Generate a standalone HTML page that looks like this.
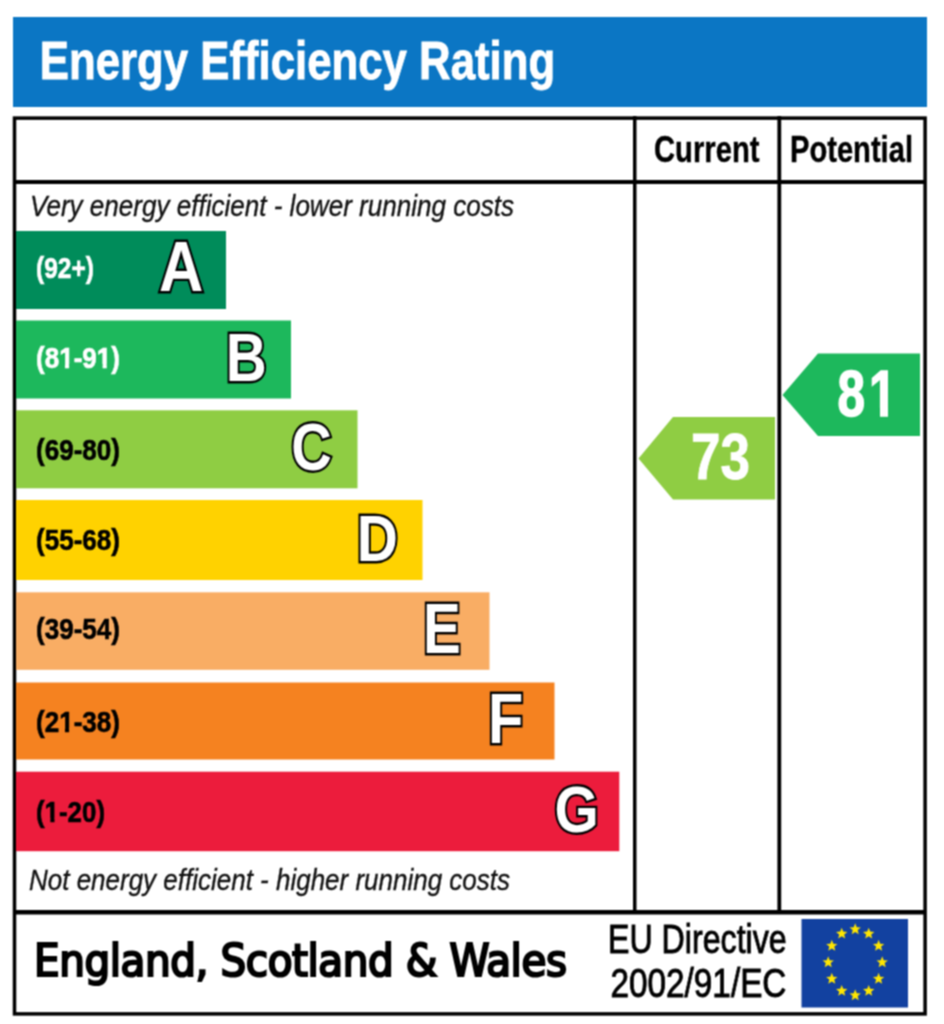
<!DOCTYPE html>
<html><head><meta charset="utf-8"><title>Energy Efficiency Rating</title>
<style>
html,body{margin:0;padding:0;background:#fff;width:944px;height:1024px;overflow:hidden}
svg{display:block}
.b{font-family:"Liberation Sans",Arial,sans-serif;font-weight:bold}
.i{font-family:"Liberation Sans",Arial,sans-serif;font-style:italic}
.r{font-family:"Liberation Sans",Arial,sans-serif}
.L{font-family:"Liberation Sans",Arial,sans-serif;font-weight:bold;fill:#fff;stroke:#000;stroke-width:4.8;paint-order:stroke fill;stroke-linejoin:miter;stroke-miterlimit:4}
</style></head>
<body>
<svg width="944" height="1024" viewBox="0 0 944 1024">
<defs><filter id="soft" filterUnits="userSpaceOnUse" x="0" y="0" width="944" height="1024" color-interpolation-filters="sRGB"><feConvolveMatrix order="3" kernelMatrix="1 2 1 2 4 2 1 2 1" divisor="16" edgeMode="duplicate"/></filter></defs>
<g filter="url(#soft)">
<!-- header -->
<rect x="13" y="17" width="914" height="90" fill="#0b76c4"/>
<text class="b" x="39.8" y="78.5" font-size="53" fill="#fff" stroke="#fff" stroke-width="0.9" textLength="515.4" lengthAdjust="spacingAndGlyphs">Energy Efficiency Rating</text>

<!-- table frame -->
<rect x="14.5" y="118.1" width="910.6" height="895.8" fill="none" stroke="#000" stroke-width="3.5"/>
<rect x="13" y="180" width="913" height="4" fill="#000"/>
<rect x="13" y="910" width="913" height="4.5" fill="#000"/>
<rect x="633" y="116" width="3.5" height="796" fill="#000"/>
<rect x="777.4" y="116" width="3.8" height="796" fill="#000"/>

<text class="b" x="654" y="162" font-size="37" fill="#000" stroke="#000" stroke-width="0.4" textLength="105.5" lengthAdjust="spacingAndGlyphs">Current</text>
<text class="b" x="790" y="161.6" font-size="37" fill="#000" stroke="#000" stroke-width="0.4" textLength="123" lengthAdjust="spacingAndGlyphs">Potential</text>

<text class="i" x="30" y="215.5" font-size="29" fill="#111" stroke="#111" stroke-width="0.35" textLength="484" lengthAdjust="spacingAndGlyphs">Very energy efficient - lower running costs</text>

<!-- bars -->
<rect x="16" y="231" width="210" height="78" fill="#008c5a"/>
<rect x="16" y="320.5" width="275" height="78" fill="#1db85c"/>
<rect x="16" y="410.3" width="341.5" height="78" fill="#8fcd43"/>
<rect x="16" y="500" width="406.5" height="80" fill="#ffd200"/>
<rect x="16" y="592.3" width="473.5" height="77.5" fill="#f9ad64"/>
<rect x="16" y="682.5" width="538.5" height="77" fill="#f58220"/>
<rect x="16" y="771.7" width="603.3" height="79.5" fill="#ec1c3c"/>

<text class="b" x="36" y="278.4" font-size="29" fill="#fff" stroke="#fff" stroke-width="0.6" textLength="58" lengthAdjust="spacingAndGlyphs">(92+)</text>
<text class="b" x="36" y="368.1" font-size="29" fill="#fff" stroke="#fff" stroke-width="0.6" textLength="84" lengthAdjust="spacingAndGlyphs">(81-91)</text>
<text class="b" x="36" y="459.7" font-size="29" fill="#000" stroke="#000" stroke-width="0.6" textLength="84" lengthAdjust="spacingAndGlyphs">(69-80)</text>
<text class="b" x="36" y="549.7" font-size="29" fill="#000" stroke="#000" stroke-width="0.6" textLength="84" lengthAdjust="spacingAndGlyphs">(55-68)</text>
<text class="b" x="36" y="639.4" font-size="29" fill="#000" stroke="#000" stroke-width="0.6" textLength="84" lengthAdjust="spacingAndGlyphs">(39-54)</text>
<text class="b" x="36" y="731.7" font-size="29" fill="#000" stroke="#000" stroke-width="0.6" textLength="84" lengthAdjust="spacingAndGlyphs">(21-38)</text>
<text class="b" x="36" y="821.7" font-size="29" fill="#000" stroke="#000" stroke-width="0.6" textLength="69" lengthAdjust="spacingAndGlyphs">(1-20)</text>

<text class="L" x="159" y="291.3" font-size="70" textLength="44.3" lengthAdjust="spacingAndGlyphs">A</text>
<text class="L" x="225.8" y="380.8" font-size="68.8" textLength="41" lengthAdjust="spacingAndGlyphs">B</text>
<text class="L" x="291.3" y="470.2" font-size="67" textLength="40.5" lengthAdjust="spacingAndGlyphs">C</text>
<text class="L" x="356.8" y="560.6" font-size="65.7" textLength="41.2" lengthAdjust="spacingAndGlyphs">D</text>
<text class="L" x="423" y="652.9" font-size="69.5" textLength="37.8" lengthAdjust="spacingAndGlyphs">E</text>
<text class="L" x="488" y="742.9" font-size="69.5" textLength="35.3" lengthAdjust="spacingAndGlyphs">F</text>
<text class="L" x="554.6" y="831.8" font-size="65.7" textLength="44.3" lengthAdjust="spacingAndGlyphs">G</text>

<text class="i" x="29" y="889.5" font-size="29" fill="#111" stroke="#111" stroke-width="0.35" textLength="481" lengthAdjust="spacingAndGlyphs">Not energy efficient - higher running costs</text>

<g class="ft">
<rect x="59.30" y="364" width="5.64" height="5" fill="#1db85c"/>
<rect x="69.12" y="364" width="5.31" height="5" fill="#1db85c"/>
<rect x="96.95" y="364" width="5.64" height="5" fill="#1db85c"/>
<rect x="106.77" y="364" width="5.31" height="5" fill="#1db85c"/>
<rect x="59.30" y="728" width="5.64" height="5" fill="#f58220"/>
<rect x="69.12" y="728" width="5.31" height="5" fill="#f58220"/>
<rect x="44.74" y="818" width="5.61" height="5" fill="#ec1c3c"/>
<rect x="54.51" y="818" width="5.28" height="5" fill="#ec1c3c"/>
<rect x="713.39" y="993" width="6.89" height="5" fill="#fff"/>
<rect x="724.13" y="993" width="6.63" height="5" fill="#fff"/>
</g>
<!-- arrows -->
<polygon points="638.5,458.5 673,417 775,417 775,499.5 673,499.5" fill="#8fcd43"/>
<text class="b" x="691" y="479.1" font-size="65" fill="#fff" stroke="#fff" stroke-width="0.9" textLength="59" lengthAdjust="spacingAndGlyphs">73</text>
<polygon points="782.5,395 818,353.5 920,353.5 920,436 818,436" fill="#1db85c"/>
<text class="b" transform="translate(837.50,415.90) scale(0.7730,1)" font-size="64" fill="#fff" stroke="#fff" stroke-width="1.57">8<tspan dx="5.244">1</tspan></text>
<rect x="870" y="408" width="10" height="10" fill="#1db85c"/>
<rect x="888" y="408" width="10" height="10" fill="#1db85c"/>

<!-- footer -->
<text x="34" y="975.6" font-family="'DejaVu Sans Condensed','DejaVu Sans',sans-serif" font-size="45" fill="#000" stroke="#000" stroke-width="2.2" textLength="533" lengthAdjust="spacing">England, Scotland &amp; Wales</text>
<text class="r" x="608" y="953.4" font-size="40" fill="#000" stroke="#000" stroke-width="0.9" textLength="178.7" lengthAdjust="spacingAndGlyphs">EU Directive</text>
<text class="r" x="610.5" y="997" font-size="40" fill="#000" stroke="#000" stroke-width="0.9" textLength="175.9" lengthAdjust="spacingAndGlyphs">2002/91/EC</text>

<rect x="801.5" y="919" width="106.5" height="88.5" fill="#1241a0"/>
<g fill="#ffe600">
<polygon points="855.2,923.3 856.7,927.2 860.9,927.4 857.7,930.1 858.7,934.2 855.2,931.9 851.7,934.2 852.7,930.1 849.5,927.4 853.7,927.2"/>
<polygon points="868.7,927.7 870.2,931.6 874.4,931.9 871.2,934.5 872.2,938.6 868.7,936.3 865.2,938.6 866.2,934.5 863.0,931.9 867.2,931.6"/>
<polygon points="878.6,939.8 880.1,943.7 884.3,943.9 881.1,946.6 882.1,950.7 878.6,948.4 875.1,950.7 876.1,946.6 872.9,943.9 877.1,943.7"/>
<polygon points="882.2,956.3 883.7,960.2 887.9,960.4 884.7,963.1 885.7,967.2 882.2,964.9 878.7,967.2 879.7,963.1 876.5,960.4 880.7,960.2"/>
<polygon points="878.6,972.8 880.1,976.7 884.3,976.9 881.1,979.6 882.1,983.7 878.6,981.4 875.1,983.7 876.1,979.6 872.9,976.9 877.1,976.7"/>
<polygon points="868.7,984.9 870.2,988.8 874.4,989.0 871.2,991.7 872.2,995.7 868.7,993.5 865.2,995.7 866.2,991.7 863.0,989.0 867.2,988.8"/>
<polygon points="855.2,989.3 856.7,993.2 860.9,993.4 857.7,996.1 858.7,1000.2 855.2,997.9 851.7,1000.2 852.7,996.1 849.5,993.4 853.7,993.2"/>
<polygon points="841.7,984.9 843.2,988.8 847.4,989.0 844.2,991.7 845.2,995.7 841.7,993.5 838.2,995.7 839.2,991.7 836.0,989.0 840.2,988.8"/>
<polygon points="831.8,972.8 833.3,976.7 837.5,976.9 834.3,979.6 835.3,983.7 831.8,981.4 828.3,983.7 829.3,979.6 826.1,976.9 830.3,976.7"/>
<polygon points="828.2,956.3 829.7,960.2 833.9,960.4 830.7,963.1 831.7,967.2 828.2,964.9 824.7,967.2 825.7,963.1 822.5,960.4 826.7,960.2"/>
<polygon points="831.8,939.8 833.3,943.7 837.5,943.9 834.3,946.6 835.3,950.7 831.8,948.4 828.3,950.7 829.3,946.6 826.1,943.9 830.3,943.7"/>
<polygon points="841.7,927.7 843.2,931.6 847.4,931.9 844.2,934.5 845.2,938.6 841.7,936.3 838.2,938.6 839.2,934.5 836.0,931.9 840.2,931.6"/>
</g>
</g>
</svg>
</body></html>
